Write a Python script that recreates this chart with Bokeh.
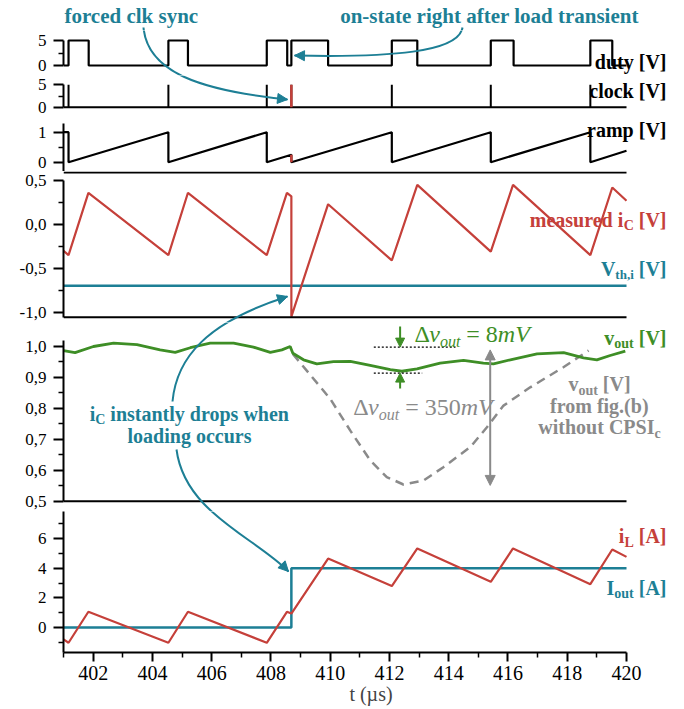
import math
from bokeh.plotting import figure
from bokeh.layouts import column
from bokeh.models import Range1d, FixedTicker, Label, Arrow, NormalHead
from bokeh.embed import file_html
from bokeh.resources import INLINE

# ---------------- data ----------------
T_START, T_END = 401.0, 420.0
x_major_ticks = [402, 404, 406, 408, 410, 412, 414, 416, 418, 420]
x_minor_ticks = [401, 403, 405, 407, 409, 411, 413, 415, 417, 419]
x_tick_labels = ["402", "404", "406", "408", "410", "412", "414", "416", "418", "420"]
x_axis_title = "t (µs)"

duty_on_t = [401.17, 404.54, 407.86, 408.69, 412.08, 415.42, 418.78]
duty_off_t = [401.85, 405.20, 408.55, 409.93, 412.94, 416.19, 419.52]
duty_high = 5.0

clock_t = [401.17, 404.54, 407.86, 408.69, 412.08, 415.42, 418.78]
clock_high = 5.0
forced_clock_t = 408.69

ramp_t = [401.0, 401.17, 401.17, 404.54, 404.54, 407.86, 407.86, 408.69, 408.69,
          412.08, 412.08, 415.42, 415.42, 418.78, 418.78, 420.0]
ramp_v = [1.0, 1.0, 0.0, 1.0, 0.0, 1.0, 0.0, 0.25, 0.0,
          1.0, 0.0, 1.0, 0.0, 1.0, 0.0, 0.38]
ramp_forced_v = [0.25, 0.0]

ic_t = [401.0, 401.17, 401.84, 404.54, 405.2, 407.86, 408.54, 408.69, 408.69,
        409.93, 412.08, 412.94, 415.42, 416.17, 418.78, 419.52, 420.0]
ic_v = [-0.30, -0.35, 0.36, -0.35, 0.36, -0.35, 0.36, 0.32, -1.05,
        0.23, -0.41, 0.45, -0.31, 0.45, -0.35, 0.42, 0.27]
vth_i = -0.70

vout_t = [401.0, 401.39, 402.01, 402.69, 403.48, 404.26, 404.77, 405.28, 405.95,
          406.74, 407.41, 407.98, 408.37, 408.65, 408.74, 409.1, 409.55, 410.11,
          410.68, 411.35, 412.03, 412.42, 412.93, 413.71, 414.5, 415.17, 415.51,
          416.08, 416.98, 417.88, 418.55, 419.0, 419.45, 419.96]
vout_v = [0.987, 0.980, 1.000, 1.011, 1.006, 0.989, 0.981, 0.996, 1.011,
          1.011, 0.998, 0.981, 0.989, 1.000, 0.978, 0.957, 0.944, 0.951,
          0.952, 0.939, 0.925, 0.920, 0.928, 0.946, 0.955, 0.946, 0.944,
          0.957, 0.976, 0.980, 0.963, 0.957, 0.971, 0.985]

vref_t = [408.74, 410.0, 410.68, 411.35, 411.91, 412.47, 413.15, 413.82,
          414.73, 415.29, 415.85, 416.75, 417.87, 418.72]
vref_v = [0.976, 0.831, 0.728, 0.632, 0.578, 0.554, 0.567, 0.610,
          0.675, 0.739, 0.809, 0.868, 0.933, 0.987]

il_t = [401.0, 401.17, 401.84, 404.54, 405.2, 407.86, 408.54, 408.69, 409.93,
        412.08, 412.94, 415.42, 416.17, 418.78, 419.52, 420.0]
il_v = [-0.80, -1.03, 1.06, -1.03, 1.06, -1.03, 1.06, 0.94, 4.65,
        2.79, 5.33, 3.08, 5.33, 2.92, 5.26, 4.76]

iout_t = [401.0, 408.69, 408.69, 420.0]
iout_v = [0.0, 0.0, 4.0, 4.0]

duty_ticks, duty_minor, duty_labels = [0, 5], [2.5], ["0", "5"]
clock_ticks, clock_minor, clock_labels = [0, 5], [2.5], ["0", "5"]
ramp_ticks, ramp_minor, ramp_labels = [0, 1], [0.5], ["0", "1"]
ic_ticks = [-1.0, -0.5, 0.0, 0.5]
ic_minor = [-0.75, -0.25, 0.25]
ic_labels = ["-1,0", "-0,5", "0,0", "0,5"]
vo_ticks = [0.5, 0.6, 0.7, 0.8, 0.9, 1.0]
vo_minor = [0.55, 0.65, 0.75, 0.85, 0.95]
vo_labels = ["0,5", "0,6", "0,7", "0,8", "0,9", "1,0"]
il_ticks, il_minor, il_labels = [0, 2, 4, 6], [-1, 1, 3, 5, 7], ["0", "2", "4", "6"]

# annotation levels (vout panel)
dv_top, dv_low = 0.998, 0.914
dv_arrow_t = 412.36
big_arrow_t, big_top, big_low = 415.4, 0.989, 0.551

# ---------------- styling / layout ----------------
TEAL = "#1d7f95"
RED = "#c5403a"
GREEN = "#3e8e26"
GREY = "#8a8a8a"
SERIF = "Liberation Serif"

AXIS_PX = 63.0            # page x of t = 401
SCALE = 563.0 / 19.0      # px per microsecond
FIG_W = 678               # total figure width
FRAME_W = FIG_W - int(AXIS_PX)
XR = Range1d(T_START, T_START + FRAME_W / SCALE)


class Panel:
    def __init__(self, top, bottom, v0, p0, v1, p1):
        self.top, self.bottom = top, bottom
        self.v0, self.p0 = v0, p0
        self.k = (p1 - p0) / (v1 - v0)

    def yd(self, py):
        return self.v0 + (py - self.p0) / self.k

    @staticmethod
    def xd(px):
        return T_START + (px - AXIS_PX) / SCALE


P_TOP = Panel(0, 30, 0, 30.0, 30, 0.0)
P_DUTY = Panel(30, 75, 0, 65.0, 5, 40.0)
P_CLK = Panel(75, 118, 0, 106.7, 5, 84.3)
P_RAMP = Panel(118, 171, 0, 161.7, 1, 131.7)
P_IC = Panel(171, 322, 0.5, 180.0, -1.0, 311.7)
P_VO = Panel(322, 511, 1.0, 346.0, 0.5, 500.7)
P_IL = Panel(511, 652, 0, 627.0, 6, 538.0)


def style_axis(ax):
    ax.axis_line_width = 2
    ax.axis_line_color = "black"
    ax.major_tick_line_width = 2
    ax.minor_tick_line_width = 1.5
    ax.major_tick_in = 0
    ax.minor_tick_in = 0
    ax.major_tick_out = 10
    ax.minor_tick_out = 5
    ax.major_label_text_font = SERIF
    ax.major_label_text_color = "black"


def base_fig(pan, y_axis=True, with_x=False):
    p = figure(title=None, frame_width=FRAME_W, frame_height=int(pan.bottom - pan.top),
               x_range=XR, y_range=Range1d(pan.yd(pan.bottom), pan.yd(pan.top)),
               output_backend="svg", toolbar_location=None,
               x_axis_location="below" if with_x else None,
               y_axis_location="left" if y_axis else None,
               min_border_left=int(AXIS_PX), min_border_right=0,
               min_border_top=0, min_border_bottom=57 if with_x else 0,
               outline_line_color=None, background_fill_color="white",
               border_fill_color="white")
    p.xgrid.visible = False
    p.ygrid.visible = False
    return p


def make_fig(pan, ticks, minor, labels, bounds, with_x=False):
    p = base_fig(pan, True, with_x)
    ya = p.yaxis[0]
    style_axis(ya)
    ya.ticker = FixedTicker(ticks=ticks, minor_ticks=minor)
    ya.major_label_overrides = {t: l for t, l in zip(ticks, labels)}
    ya.bounds = bounds
    ya.major_label_text_font_size = "17px"
    ya.major_label_standoff = 7
    if with_x:
        xa = p.xaxis[0]
        style_axis(xa)
        xa.major_tick_out = 9
        xa.ticker = FixedTicker(ticks=x_major_ticks, minor_ticks=x_minor_ticks)
        xa.major_label_overrides = {t: l for t, l in zip(x_major_ticks, x_tick_labels)}
        xa.major_label_text_font_size = "20px"
        xa.major_label_standoff = 4
        xa.bounds = (T_START, T_END)
        xa.axis_label = x_axis_title
        xa.axis_label_text_font = SERIF
        xa.axis_label_text_font_size = "20px"
        xa.axis_label_text_font_style = "normal"
        xa.axis_label_standoff = 0
    return p


# ---------------- rich-text helper (Times metrics) ----------------
REG = {' ': 250, '(': 333, ')': 333, ',': 250, '-': 333, '.': 250, '=': 564, '[': 333,
       ']': 333, 'A': 722, 'C': 667, 'I': 333, 'L': 611, 'P': 556, 'S': 556, 'V': 722,
       'a': 444, 'b': 500, 'c': 444, 'd': 500, 'e': 444, 'f': 333, 'g': 500, 'h': 500,
       'i': 278, 'k': 500, 'l': 278, 'm': 778, 'n': 500, 'o': 500, 'p': 500, 'r': 333,
       's': 389, 't': 278, 'u': 500, 'v': 500, 'w': 722, 'y': 500, 'Δ': 612}
BOLD = {' ': 250, '(': 333, ')': 333, ',': 250, '-': 333, '.': 250, '[': 333, ']': 333,
        'A': 722, 'C': 722, 'I': 389, 'L': 667, 'P': 611, 'S': 556, 'V': 722, 'a': 500,
        'b': 556, 'c': 444, 'd': 556, 'e': 444, 'f': 333, 'g': 500, 'h': 556, 'i': 278,
        'k': 556, 'l': 278, 'm': 833, 'n': 556, 'o': 500, 'p': 556, 'r': 444, 's': 389,
        't': 333, 'u': 556, 'v': 500, 'w': 722, 'y': 500}
ITAL = {' ': 250, '=': 675, 'm': 722, 'V': 611, 'v': 444, 'o': 500, 'u': 500, 't': 278}
TABLES = {'normal': REG, 'bold': BOLD, 'italic': ITAL}


def tw(s, size, style):
    tab = TABLES[style]
    return sum(tab.get(c, 500) for c in s) * size / 1000.0


def rich(p, pan, x_px, cy, pieces, align="left", bg=False):
    """pieces: (text, size, style, colour, dy) ; cy = visual centre line in page px"""
    widths = [tw(t, s, st) for (t, s, st, c, dy) in pieces]
    total = sum(widths)
    x = x_px - total if align == "right" else (x_px - total / 2 if align == "center" else x_px)
    if bg:
        main = pieces[0]
        p.add_layout(Label(x=pan.xd(x), y=pan.yd(cy), text="".join(pc[0] for pc in pieces),
                           text_font=SERIF, text_font_size=f"{main[1]}px", text_font_style=main[2],
                           text_alpha=0.0, text_align="left", text_baseline="middle",
                           background_fill_color="white", padding=3))
    for (t, s, st, c, dy), w in zip(pieces, widths):
        body = t.lstrip(" ")
        lead = tw(t[:len(t) - len(body)], s, st)
        p.add_layout(Label(x=pan.xd(x + lead), y=pan.yd(cy + dy), text=body, text_font=SERIF,
                           text_font_size=f"{s}px", text_font_style=st, text_color=c,
                           text_align="left", text_baseline="middle"))
        x += w


def bez(p, pan, P0, C0, C1, P1, color=TEAL, width=2):
    p.bezier(x0=[pan.xd(P0[0])], y0=[pan.yd(P0[1])], x1=[pan.xd(P1[0])], y1=[pan.yd(P1[1])],
             cx0=[pan.xd(C0[0])], cy0=[pan.yd(C0[1])], cx1=[pan.xd(C1[0])], cy1=[pan.yd(C1[1])],
             line_color=color, line_width=width)


def head(p, pan, C1, P1, color=TEAL):
    dx, dy = P1[0] - C1[0], P1[1] - C1[1]
    L = math.hypot(dx, dy)
    S = (P1[0] - 6 * dx / L, P1[1] - 6 * dy / L)
    p.add_layout(Arrow(end=NormalHead(size=10, line_color=color, fill_color=color, line_width=1),
                       x_start=pan.xd(S[0]), y_start=pan.yd(S[1]),
                       x_end=pan.xd(P1[0]), y_end=pan.yd(P1[1]),
                       line_color=color, line_width=2))


def hline(p, y, color="black", width=2):
    p.line([T_START, T_END], [y, y], line_color=color, line_width=width)


RIGHT = 666

# curved arrows (page pixel control points)
ARROW_A = ((143, 27), (147, 72), (200, 90), (287, 99))
ARROW_B = ((462, 27), (458, 52), (390, 57), (294, 55))
ARROW_C = ((172, 401), (176, 358), (205, 322), (287, 296))
ARROW_D = ((176, 449), (184, 512), (255, 537), (288, 571))

# ---------------- title strip ----------------
f0 = base_fig(P_TOP, y_axis=False)
bez(f0, P_TOP, *ARROW_A)
bez(f0, P_TOP, *ARROW_B)
rich(f0, P_TOP, 131, 15, [("forced clk sync", 21, "bold", TEAL, 0)], align="center")
rich(f0, P_TOP, 489, 15, [("on-state right after load transient", 21, "bold", TEAL, 0)], align="center")

# ---------------- panel 1 : duty ----------------
duty_x, duty_y = [T_START], [0.0]
for on, off in zip(duty_on_t, duty_off_t):
    duty_x += [on, on, off, off]
    duty_y += [0.0, duty_high, duty_high, 0.0]
duty_x.append(T_END)
duty_y.append(0.0)

f1 = make_fig(P_DUTY, duty_ticks, duty_minor, duty_labels, (0, 5))
f1.line(duty_x, duty_y, line_color="black", line_width=2.2)
bez(f1, P_DUTY, *ARROW_A)
bez(f1, P_DUTY, *ARROW_B)
head(f1, P_DUTY, ARROW_B[2], ARROW_B[3])
rich(f1, P_DUTY, RIGHT, 61, [("duty [V]", 20, "bold", "black", 0)], align="right", bg=True)

# ---------------- panel 2 : clock ----------------
clk_x, clk_y = [T_START], [0.0]
for c in clock_t:
    clk_x += [c, c, c]
    clk_y += [0.0, clock_high, 0.0]
clk_x.append(T_END)
clk_y.append(0.0)

f2 = make_fig(P_CLK, clock_ticks, clock_minor, clock_labels, (0, 5))
f2.line(clk_x, clk_y, line_color="black", line_width=2)
f2.segment(x0=[forced_clock_t], y0=[0.0], x1=[forced_clock_t], y1=[clock_high],
           line_color=RED, line_width=2.5)
bez(f2, P_CLK, *ARROW_A)
head(f2, P_CLK, ARROW_A[2], ARROW_A[3])
rich(f2, P_CLK, RIGHT, 90, [("clock [V]", 20, "bold", "black", 0)], align="right", bg=True)

# ---------------- panel 3 : ramp ----------------
f3 = make_fig(P_RAMP, ramp_ticks, ramp_minor, ramp_labels, (P_RAMP.yd(171), 1.3))
f3.line(ramp_t, ramp_v, line_color="black", line_width=2.2)
f3.line([forced_clock_t, forced_clock_t], ramp_forced_v, line_color=RED, line_width=2.5)
rich(f3, P_RAMP, RIGHT, 129.5, [("ramp [V]", 20, "bold", "black", 0)], align="right", bg=True)

# ---------------- panel 4 : iC ----------------
ramp_floor_in_ic = P_IC.yd(171.9)
ic_floor = P_IC.yd(316.7)
f4 = make_fig(P_IC, ic_ticks, ic_minor, ic_labels, (ic_floor, 0.5))
hline(f4, ramp_floor_in_ic)
hline(f4, vth_i, TEAL, 2.5)
f4.line(ic_t, ic_v, line_color=RED, line_width=2.2)
hline(f4, ic_floor)
bez(f4, P_IC, *ARROW_C)
head(f4, P_IC, ARROW_C[2], ARROW_C[3])
rich(f4, P_IC, RIGHT, 219, [("measured i", 20, "bold", RED, 0), ("C", 14, "bold", RED, 6),
                            (" [V]", 20, "bold", RED, 0)], align="right", bg=True)
rich(f4, P_IC, RIGHT, 268, [("V", 20, "bold", TEAL, 0), ("th,i", 13, "bold", TEAL, 6),
                            (" [V]", 20, "bold", TEAL, 0)], align="right", bg=True)

# ---------------- panel 5 : vout ----------------
f5 = make_fig(P_VO, vo_ticks, vo_minor, vo_labels, (0.5, 1.02))
f5.line(vref_t, vref_v, line_color=GREY, line_width=2.5, line_dash="9 6")
f5.line(vout_t, vout_v, line_color=GREEN, line_width=2.8)
hline(f5, 0.5)
f5.segment(x0=[P_VO.xd(373.3), P_VO.xd(373.3)], y0=[dv_top, dv_low],
           x1=[P_VO.xd(455.0), P_VO.xd(421.7)], y1=[dv_top, dv_low],
           line_color="black", line_width=1.2, line_dash="2 2")
f5.add_layout(Arrow(end=NormalHead(size=9, line_color=GREEN, fill_color=GREEN),
                    x_start=dv_arrow_t, y_start=P_VO.yd(326), x_end=dv_arrow_t, y_end=dv_top,
                    line_color=GREEN, line_width=2))
f5.add_layout(Arrow(end=NormalHead(size=9, line_color=GREEN, fill_color=GREEN),
                    x_start=dv_arrow_t, y_start=P_VO.yd(388), x_end=dv_arrow_t, y_end=dv_low,
                    line_color=GREEN, line_width=2))
f5.add_layout(Arrow(start=NormalHead(size=10, line_color=GREY, fill_color=GREY),
                    end=NormalHead(size=10, line_color=GREY, fill_color=GREY),
                    x_start=big_arrow_t, y_start=big_top, x_end=big_arrow_t, y_end=big_low,
                    line_color=GREY, line_width=2))
bez(f5, P_VO, *ARROW_C)
bez(f5, P_VO, *ARROW_D)
rich(f5, P_VO, 471.7, 333.5, [("Δ", 24, "normal", GREEN, 0), ("v", 24, "italic", GREEN, 0),
                              ("out", 16, "italic", GREEN, 7), (" = 8", 24, "normal", GREEN, 0),
                              ("mV", 24, "italic", GREEN, 0)], align="center")
rich(f5, P_VO, 422.5, 406.5, [("Δ", 24, "normal", GREY, 0), ("v", 24, "italic", GREY, 0),
                              ("out", 16, "italic", GREY, 7), (" = 350", 24, "normal", GREY, 0),
                              ("mV", 24, "italic", GREY, 0)], align="center", bg=True)
rich(f5, P_VO, RIGHT, 337, [("v", 20, "bold", GREEN, 0), ("out", 14, "bold", GREEN, 6),
                            (" [V]", 20, "bold", GREEN, 0)], align="right", bg=True)
rich(f5, P_VO, 599, 383.5, [("v", 20, "bold", GREY, 0), ("out", 14, "bold", GREY, 6),
                            (" [V]", 20, "bold", GREY, 0)], align="center", bg=True)
rich(f5, P_VO, 599, 405.5, [("from fig.(b)", 20, "bold", GREY, 0)], align="center", bg=True)
rich(f5, P_VO, 599, 426.5, [("without CPSI", 20, "bold", GREY, 0), ("c", 14, "bold", GREY, 6)],
     align="center", bg=True)
rich(f5, P_VO, 189, 413, [("i", 20, "bold", TEAL, 0), ("C", 14, "bold", TEAL, 6),
                          (" instantly drops when", 20, "bold", TEAL, 0)], align="center")
rich(f5, P_VO, 189, 435, [("loading occurs", 20, "bold", TEAL, 0)], align="center")

# ---------------- panel 6 : iL / Iout ----------------
f6 = make_fig(P_IL, il_ticks, il_minor, il_labels, (P_IL.yd(652), 7.8), with_x=True)
f6.line(iout_t, iout_v, line_color=TEAL, line_width=2.5)
f6.line(il_t, il_v, line_color=RED, line_width=2.2)
bez(f6, P_IL, *ARROW_D)
head(f6, P_IL, ARROW_D[2], ARROW_D[3])
rich(f6, P_IL, RIGHT, 535.5, [("i", 20, "bold", RED, 0), ("L", 14, "bold", RED, 6),
                              (" [A]", 20, "bold", RED, 0)], align="right", bg=True)
rich(f6, P_IL, RIGHT, 587, [("I", 20, "bold", TEAL, 0), ("out", 14, "bold", TEAL, 6),
                            (" [A]", 20, "bold", TEAL, 0)], align="right", bg=True)

layout = column(f0, f1, f2, f3, f4, f5, f6, spacing=0)
open("out.html", "w").write(file_html(layout, INLINE))
